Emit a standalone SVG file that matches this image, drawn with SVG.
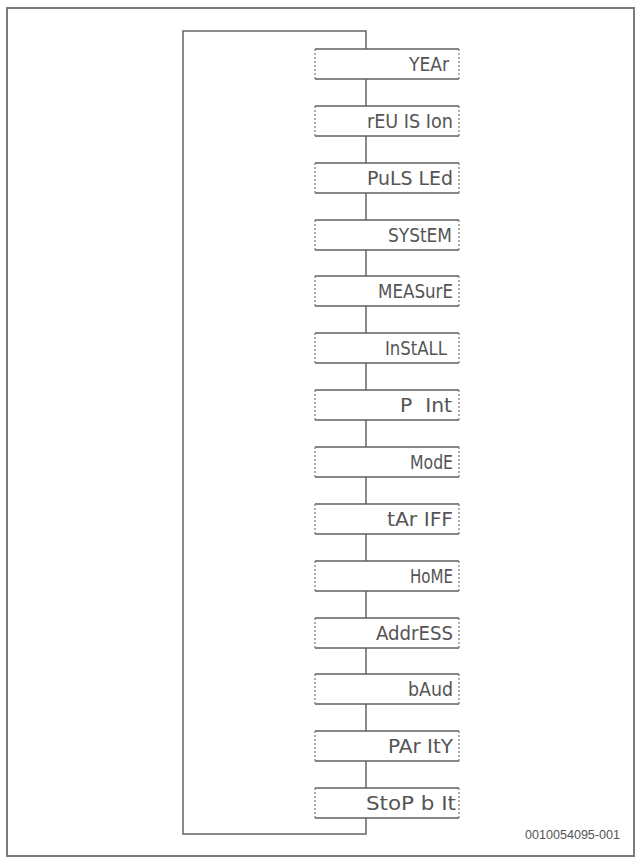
<svg xmlns="http://www.w3.org/2000/svg" width="637" height="857" viewBox="0 0 637 857">
<style>
.frame{fill:none;stroke:#7a7a7a;stroke-width:2}
.conn{fill:none;stroke:#666;stroke-width:1.5}
.bg{fill:#fff;stroke:none}
.solid{stroke:#5e5e5e;stroke-width:1.6}
.dash{stroke:#777;stroke-width:1.2;stroke-dasharray:2 2}
.lbl{font-family:"Liberation Sans Narrow","DejaVu Sans Condensed","Liberation Sans",sans-serif;font-size:20px;fill:#555}
.code{font-family:"Liberation Sans",Arial,sans-serif;font-size:12px;fill:#555}
</style>
<defs>
<g id="box">
<rect class="bg" x="0" y="0" width="144" height="30"/>
<line class="solid" x1="0" y1="0" x2="144" y2="0"/>
<line class="solid" x1="0" y1="30" x2="144" y2="30"/>
<line class="dash" x1="0" y1="0" x2="0" y2="30"/>
<line class="dash" x1="144" y1="0" x2="144" y2="30"/>
</g>
</defs>
<rect class="frame" x="7" y="8" width="627" height="848"/>
<g id="connectors">
<path class="conn" d="M366,817 V834 H183 V31 H366 V49"/>
<path class="conn" d="M366,79 V106 M366,136 V163 M366,193 V220 M366,250 V276 M366,306 V333 M366,363 V390 M366,420 V447 M366,477 V504 M366,534 V561 M366,591 V618 M366,648 V674 M366,704 V731 M366,761 V788"/>
</g>
<g id="n1"><use href="#box" x="315" y="49"/><text class="lbl" x="409" y="71" textLength="40" lengthAdjust="spacingAndGlyphs">YEAr</text></g>
<g id="n2"><use href="#box" x="315" y="106"/><text class="lbl" x="367" y="128" textLength="86" lengthAdjust="spacingAndGlyphs">rEU IS Ion</text></g>
<g id="n3"><use href="#box" x="315" y="163"/><text class="lbl" x="367" y="185" textLength="86" lengthAdjust="spacingAndGlyphs">PuLS LEd</text></g>
<g id="n4"><use href="#box" x="315" y="220"/><text class="lbl" x="388" y="242" textLength="64" lengthAdjust="spacingAndGlyphs">SYStEM</text></g>
<g id="n5"><use href="#box" x="315" y="276"/><text class="lbl" x="378" y="298" textLength="75" lengthAdjust="spacingAndGlyphs">MEASurE</text></g>
<g id="n6"><use href="#box" x="315" y="333"/><text class="lbl" x="385" y="355" textLength="62" lengthAdjust="spacingAndGlyphs">InStALL</text></g>
<g id="n7"><use href="#box" x="315" y="390"/><text class="lbl" x="400" y="412" textLength="52" lengthAdjust="spacingAndGlyphs" xml:space="preserve">P  Int</text></g>
<g id="n8"><use href="#box" x="315" y="447"/><text class="lbl" x="410" y="469" textLength="43" lengthAdjust="spacingAndGlyphs">ModE</text></g>
<g id="n9"><use href="#box" x="315" y="504"/><text class="lbl" x="387" y="526" textLength="66" lengthAdjust="spacingAndGlyphs">tAr IFF</text></g>
<g id="n10"><use href="#box" x="315" y="561"/><text class="lbl" x="410" y="583" textLength="43" lengthAdjust="spacingAndGlyphs">HoME</text></g>
<g id="n11"><use href="#box" x="315" y="618"/><text class="lbl" x="376" y="640" textLength="77" lengthAdjust="spacingAndGlyphs">AddrESS</text></g>
<g id="n12"><use href="#box" x="315" y="674"/><text class="lbl" x="408" y="696" textLength="45" lengthAdjust="spacingAndGlyphs">bAud</text></g>
<g id="n13"><use href="#box" x="315" y="731"/><text class="lbl" x="388" y="753" textLength="65" lengthAdjust="spacingAndGlyphs">PAr ItY</text></g>
<g id="n14"><use href="#box" x="315" y="788"/><text class="lbl" x="366" y="810" textLength="90" lengthAdjust="spacingAndGlyphs">StoP b It</text></g>
<text class="code" x="525" y="839" textLength="95" lengthAdjust="spacingAndGlyphs">0010054095-001</text>
</svg>
